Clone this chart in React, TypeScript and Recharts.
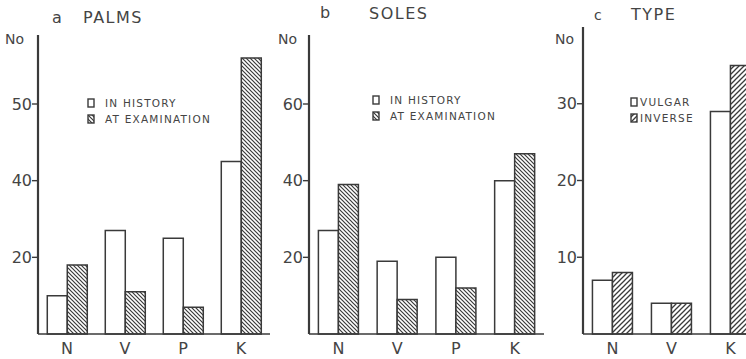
import React from "react";
import { BarChart, Bar, XAxis, YAxis, Legend } from "recharts";

// values
const footCategories = ["N", "V", "P", "K"];
const palmsHistory = [10, 27, 25, 45];
const palmsExamination = [18, 11, 7, 72];
const solesHistory = [27, 19, 20, 40];
const solesExamination = [39, 9, 12, 47];

const typeCategories = ["N", "V", "K"];
const typeVulgar = [7, 4, 29];
const typeInverse = [8, 4, 35];

const footTicks = [20, 40, 60];
const palmsTickLabels = ["20", "40", "50"];
const solesTickLabels = ["20", "40", "60"];
const typeTicks = [10, 20, 30];
const typeTickLabels = ["10", "20", "30"];

const FONT = '"DejaVu Sans", Verdana, sans-serif';
const INK = "#3a3a3a";
const TEXT = "#444";

interface Row {
  cat: string;
  first: number;
  second: number;
}

const toRows = (cats: string[], a: number[], b: number[]): Row[] =>
  cats.map((cat, i) => ({ cat, first: a[i], second: b[i] }));

interface PanelProps {
  left: number;
  width: number;
  axisWidth: number;
  top: number;
  right: number;
  max: number;
  ticks: number[];
  tickLabels: string[];
  rows: Row[];
  names: [string, string];
  hatch: string;
  legendLeft: number;
  legendTop: number;
  legendGap: number;
  gap: string;
}

const LegendBox = ({ payload, swatchGap }: any) => (
  <div style={{ fontFamily: FONT, fontSize: 10.5, letterSpacing: 1.2, color: TEXT }}>
    {(payload || []).map((p: any) => (
      <div key={p.value} style={{ display: "flex", alignItems: "center", height: 16 }}>
        <svg width={8} height={10} style={{ marginRight: swatchGap }}>
          <rect x={1} y={1} width={6} height={8} fill={p.color} stroke={INK} strokeWidth={1.4} />
        </svg>
        <span>{p.value}</span>
      </div>
    ))}
  </div>
);

const Panel = (p: PanelProps) => (
  <div style={{ position: "absolute", left: p.left, top: 0 }}>
    <BarChart
      width={p.width}
      height={359}
      data={p.rows}
      margin={{ top: p.top, right: p.right, bottom: 0, left: 0 }}
      barCategoryGap={p.gap}
      barGap={0}
    >
      <XAxis
        dataKey="cat"
        height={25}
        tickLine={false}
        axisLine={{ stroke: INK, strokeWidth: 1.6 }}
        tick={{ fill: TEXT, fontFamily: FONT, fontSize: 16 }}
        tickMargin={3}
      />
      <YAxis
        width={p.axisWidth}
        domain={[0, p.max]}
        ticks={p.ticks}
        tickFormatter={(v: number) => p.tickLabels[p.ticks.indexOf(v)] ?? String(v)}
        tickSize={6}
        tickLine={{ stroke: INK, strokeWidth: 1.4 }}
        axisLine={{ stroke: INK, strokeWidth: 2.2 }}
        tick={{ fill: TEXT, fontFamily: FONT, fontSize: 16 }}
        tickMargin={0}
      />
      <Legend
        layout="vertical"
        align="center"
        verticalAlign="middle"
        itemSorter="dataKey"
        content={<LegendBox swatchGap={p.legendGap} />}
        wrapperStyle={{ position: "absolute", left: p.legendLeft, top: p.legendTop, width: "auto" }}
      />
      <Bar
        dataKey="first"
        name={p.names[0]}
        fill="#ffffff"
        stroke={INK}
        strokeWidth={1.5}
        isAnimationActive={false}
      />
      <Bar
        dataKey="second"
        name={p.names[1]}
        fill={`url(#${p.hatch})`}
        stroke={INK}
        strokeWidth={1.5}
        isAnimationActive={false}
      />
    </BarChart>
  </div>
);

const label = (text: string, left: number, top: number, size: number, spacing = 0) => (
  <div
    style={{
      position: "absolute",
      left,
      top,
      fontFamily: FONT,
      fontSize: size,
      letterSpacing: spacing,
      color: TEXT,
      lineHeight: 1,
      whiteSpace: "nowrap",
    }}
  >
    {text}
  </div>
);

export default function App() {
  return (
    <div
      style={{
        position: "absolute",
        left: 0,
        top: 0,
        width: 746,
        height: 359,
        overflow: "hidden",
        background: "#fff",
      }}
    >
      <svg width={0} height={0} style={{ position: "absolute" }}>
        <defs>
          <pattern id="hatchBack" width={4} height={4} patternUnits="userSpaceOnUse">
            <rect width={4} height={4} fill="#fff" />
            <path d="M-1,-1 L5,5 M-1,3 L1,5 M3,-1 L5,1" stroke={INK} strokeWidth={1.2} />
          </pattern>
          <pattern id="hatchFwd" width={5} height={5} patternUnits="userSpaceOnUse">
            <rect width={5} height={5} fill="#fff" />
            <path d="M-1,6 L6,-1 M-1,1 L1,-1 M4,6 L6,4" stroke={INK} strokeWidth={1.3} />
          </pattern>
        </defs>
      </svg>

      <Panel
        left={0}
        width={280}
        axisWidth={38}
        top={35}
        right={10}
        max={78}
        ticks={footTicks}
        tickLabels={palmsTickLabels}
        rows={toRows(footCategories, palmsHistory, palmsExamination)}
        names={["IN HISTORY", "AT EXAMINATION"]}
        hatch="hatchBack"
        legendLeft={87}
        legendTop={95}
        legendGap={10}
        gap="16%"
      />
      <Panel
        left={270}
        width={280}
        axisWidth={39}
        top={35}
        right={6}
        max={78}
        ticks={footTicks}
        tickLabels={solesTickLabels}
        rows={toRows(footCategories, solesHistory, solesExamination)}
        names={["IN HISTORY", "AT EXAMINATION"]}
        hatch="hatchBack"
        legendLeft={102}
        legendTop={92}
        legendGap={10}
        gap="16%"
      />
      <Panel
        left={545}
        width={215}
        axisWidth={38}
        top={27}
        right={0}
        max={40}
        ticks={typeTicks}
        tickLabels={typeTickLabels}
        rows={toRows(typeCategories, typeVulgar, typeInverse)}
        names={["VULGAR", "INVERSE"]}
        hatch="hatchFwd"
        legendLeft={85}
        legendTop={94}
        legendGap={2}
        gap="16%"
      />

      {label("a", 52, 10, 16)}
      {label("PALMS", 83, 10, 16, 1.5)}
      {label("b", 320, 5, 16)}
      {label("SOLES", 369, 6, 16, 1.5)}
      {label("c", 594, 8, 14)}
      {label("TYPE", 631, 7, 16, 1.5)}
      {label("No", 5, 32, 14)}
      {label("No", 278, 32, 14)}
      {label("No", 555, 32, 14)}
    </div>
  );
}
